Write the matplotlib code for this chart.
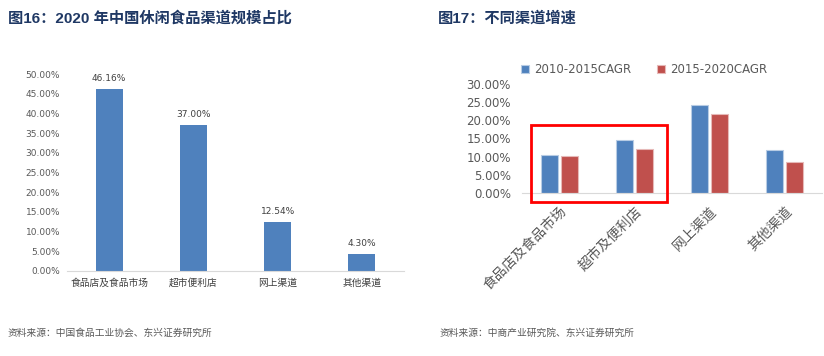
import matplotlib.pyplot as plt
from matplotlib.patches import Rectangle

plt.rcParams['font.family'] = ['DejaVu Sans', 'Noto Sans CJK SC']

# left chart: 2020 channel share
share_cats = ['食品店及食品市场', '超市便利店', '网上渠道', '其他渠道']
share_vals = [46.16, 37.00, 12.54, 4.30]

# right chart: channel growth
growth_cats = ['食品店及食品市场', '超市及便利店', '网上渠道', '其他渠道']
cagr_1015 = [10.4, 14.6, 24.1, 11.8]
cagr_1520 = [10.1, 12.1, 21.7, 8.6]

blue = '#4F81BD'
red = '#C0504D'
gray = '#595959'
title_col = '#1F3864'
title_font = ['Liberation Sans', 'Noto Sans CJK SC']
cjk = ['Noto Sans CJK SC', 'DejaVu Sans']

fig = plt.figure(figsize=(8.24, 3.56), dpi=100)

fig.text(8/824, 1 - 18/356, '图16：2020 年中国休闲食品渠道规模占比', fontsize=11,
         fontweight='bold', color=title_col, va='center', family=title_font)
fig.text(438/824, 1 - 18/356, '图17：不同渠道增速', fontsize=11,
         fontweight='bold', color=title_col, va='center', family=title_font)
fig.text(8/824, 1 - 333/356, '资料来源：中国食品工业协会、东兴证券研究所', fontsize=7,
         style='italic', color=gray, va='center', family=cjk)
fig.text(440/824, 1 - 333/356, '资料来源：中商产业研究院、东兴证券研究所', fontsize=7,
         style='italic', color=gray, va='center', family=cjk)

# left
ax1 = fig.add_axes([67/824, 85/356, 337/824, 197/356])
x = range(len(share_cats))
ax1.bar(x, share_vals, width=0.32, color=blue)
for i, v in enumerate(share_vals):
    ax1.text(i, v + 1.5, f'{v:.2f}%', ha='center', va='bottom', fontsize=6.5, color='#404040')
ax1.set_ylim(0, 50)
ax1.set_xlim(-0.5, 3.5)
ax1.set_yticks(range(0, 51, 5))
ax1.set_yticklabels([f'{t:.2f}%' for t in range(0, 51, 5)], fontsize=6.5, color=gray)
ax1.set_xticks(list(x))
ax1.set_xticklabels(share_cats, fontsize=7, color='#404040', family=cjk)
for s in ['top', 'right', 'left']:
    ax1.spines[s].set_visible(False)
ax1.spines['bottom'].set_color('#D9D9D9')
ax1.tick_params(length=0, pad=5)

# right
ax2 = fig.add_axes([522/824, 163/356, 300/824, 109/356])
w = 0.23
xs = list(range(len(growth_cats)))
ax2.bar([i - w/2 - 0.02 for i in xs], cagr_1015, width=w, color=blue,
        edgecolor='#B8CCE4', linewidth=0.8, label='2010-2015CAGR')
ax2.bar([i + w/2 + 0.02 for i in xs], cagr_1520, width=w, color=red,
        edgecolor='#E6B9B8', linewidth=0.8, label='2015-2020CAGR')
ax2.set_ylim(0, 30)
ax2.set_xlim(-0.5, 3.5)
ax2.set_yticks(range(0, 31, 5))
ax2.set_yticklabels([f'{t:.2f}%' for t in range(0, 31, 5)], fontsize=8.5, color=gray)
ax2.set_xticks(xs)
ax2.set_xticklabels(growth_cats, fontsize=10, color=gray, rotation=45,
                    ha='right', rotation_mode='anchor', family=cjk)
for s in ['top', 'right', 'left']:
    ax2.spines[s].set_visible(False)
ax2.spines['bottom'].set_color('#D9D9D9')
ax2.tick_params(length=0, pad=8)
ax2.legend(loc='lower left', bbox_to_anchor=(-0.02, 1.03), ncol=2, frameon=False,
           fontsize=8.5, handlelength=0.7, handleheight=0.7, handletextpad=0.4,
           columnspacing=2.2, labelcolor=gray, borderaxespad=0)

fig.add_artist(Rectangle((531/824, 1 - 202/356), 136/824, 77/356,
                         transform=fig.transFigure, fill=False,
                         edgecolor='#FF0000', linewidth=2))

fig.savefig('out.png', dpi=100)
